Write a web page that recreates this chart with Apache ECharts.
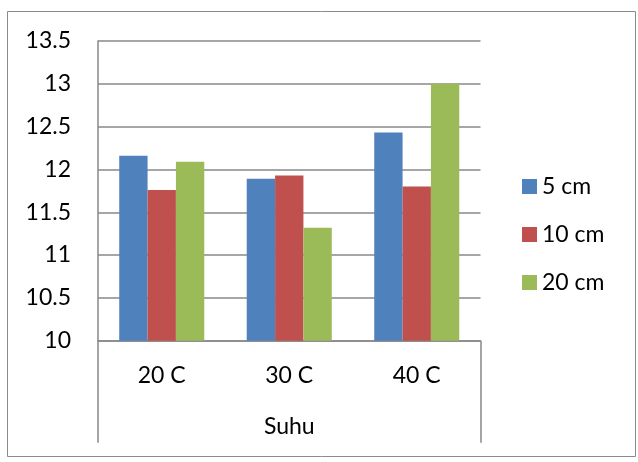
<!DOCTYPE html>
<html>
<head>
<meta charset="utf-8">
<script src="https://cdn.jsdelivr.net/npm/echarts@6/dist/echarts.min.js"></script>
<style>
  html, body { margin: 0; padding: 0; background: #fff; }
  #chart { width: 638px; height: 462px; }
</style>
</head>
<body>
<div id="chart"></div>
<script>
// Temperature categories and series values (cm depth)
const categories = ['20 C', '30 C', '40 C'];
const seriesNames = ['5 cm', '10 cm', '20 cm'];
const values5cm = [12.16, 11.89, 12.43];
const values10cm = [11.76, 11.93, 11.80];
const values20cm = [12.09, 11.32, 13.0];
const groupLabel = ['Suhu'];

const colors = ['#4F81BD', '#C0504D', '#9BBB59'];
const lineColor = '#888888';
const font = 'Lato';
const fontSize = 23;

const chart = echarts.init(document.getElementById('chart'));

function bar(name, data, color) {
  return {
    name: name,
    type: 'bar',
    data: data,
    xAxisIndex: 0,
    itemStyle: { color: color },
    barGap: '0%',
    barCategoryGap: '33.3%'
  };
}

chart.setOption({
  animation: false,
  color: colors,
  textStyle: { fontFamily: font },
  graphic: [{
    type: 'rect',
    shape: { x: 7.5, y: 11.5, width: 628, height: 445 },
    style: { fill: 'none', stroke: '#8a8a8a', lineWidth: 1 },
    silent: true
  }],
  grid: { left: 98, top: 41, right: 157.5, bottom: 121.3 },
  legend: {
    orient: 'vertical',
    left: 517,
    top: 170,
    itemWidth: 15,
    itemHeight: 15,
    itemGap: 25,
    icon: 'rect',
    textStyle: { fontFamily: font, fontSize: fontSize, color: '#000' },
    data: seriesNames
  },
  xAxis: [{
    type: 'category',
    data: categories,
    position: 'bottom',
    axisLine: { lineStyle: { color: lineColor, width: 1.5 } },
    axisTick: { show: false },
    axisLabel: { margin: 23, fontFamily: font, fontSize: fontSize, color: '#000' }
  }, {
    type: 'category',
    data: groupLabel,
    position: 'bottom',
    axisLine: { show: false },
    axisTick: { show: true, inside: false, length: 102, lineStyle: { color: lineColor, width: 1.5 } },
    axisLabel: { margin: 74, fontFamily: font, fontSize: fontSize, color: '#000' }
  }],
  yAxis: {
    type: 'value',
    min: 10,
    max: 13.5,
    interval: 0.5,
    axisLine: { show: true, lineStyle: { color: lineColor, width: 1.5 } },
    axisTick: { show: false },
    splitLine: { lineStyle: { color: lineColor, width: 1.5 } },
    axisLabel: { margin: 27, fontFamily: font, fontSize: fontSize, color: '#000' }
  },
  series: [
    bar(seriesNames[0], values5cm, colors[0]),
    bar(seriesNames[1], values10cm, colors[1]),
    bar(seriesNames[2], values20cm, colors[2])
  ]
});
</script>
</body>
</html>
